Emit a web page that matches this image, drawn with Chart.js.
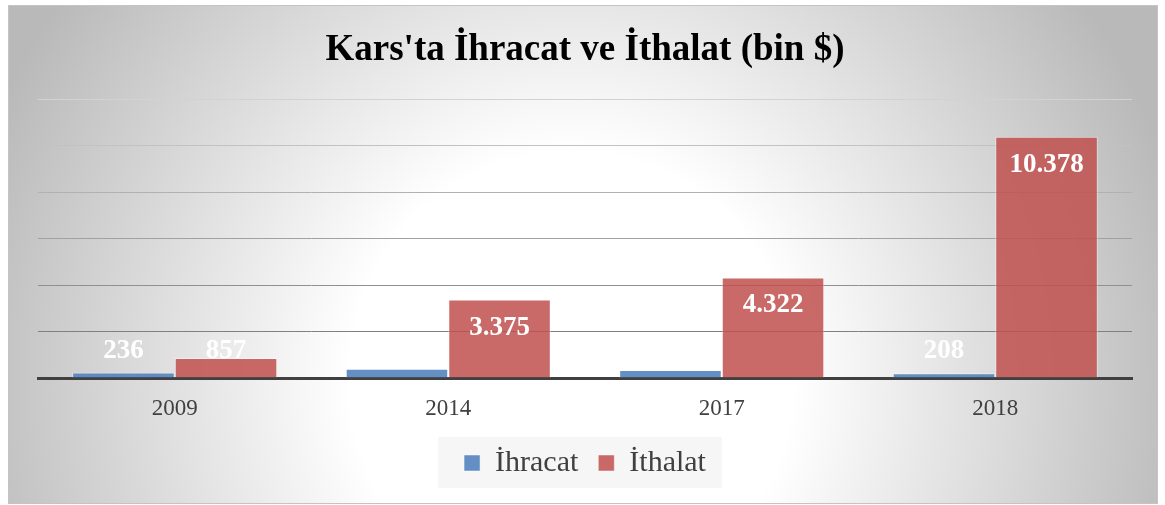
<!DOCTYPE html>
<html lang="tr">
<head>
<meta charset="utf-8">
<title>Kars'ta İhracat ve İthalat</title>
<script src="https://cdn.jsdelivr.net/npm/chart.js@4.4.1/dist/chart.umd.min.js"></script>
<style>
    html, body { margin: 0; padding: 0; background: #fff; }
    #wrap { position: relative; width: 1165px; height: 505px; }
    #frame {
        position: absolute; left: 8px; top: 5px; width: 1148px; height: 497px;
        border: 1px solid #c4c4c4;
        background: radial-gradient(ellipse 55% 130% at 49% 75%, #ffffff 0%, #ffffff 35%, #b9b9b9 100%);
    }
    #karsChart { position: absolute; left: 0; top: 0; }
</style>
</head>
<body>
<div id="wrap">
    <div id="frame"></div>
    <canvas id="karsChart" width="1165" height="505"></canvas>
</div>
<script>
// Chart data
const years = ['2009', '2014', '2017', '2018'];
const ihracat = [236, 400, 340, 208];
const ithalat = [857, 3375, 4322, 10378];
const seriesNames = ['İhracat', 'İthalat'];
const yTicks = [0, 2000, 4000, 6000, 8000, 10000, 12000];

const SERIF = "'Times New Roman', 'Liberation Serif', serif";

const COLORS = {
    ihracat: 'rgba(79, 129, 189, 0.88)',
    ithalat: 'rgba(192, 80, 77, 0.85)',
    text: '#404040',
    axis: '#404040'
};

// 10378 -> "10.378"
function formatTR(v) {
    return String(v).replace(/\B(?=(\d{3})+(?!\d))/g, '.');
}

/**
 * White value labels at the inner end of each bar
 */
const barLabels = {
    id: 'barLabels',
    afterDatasetsDraw(chart) {
        const ctx = chart.ctx;
        ctx.save();
        ctx.font = 'bold 27px ' + SERIF;
        ctx.fillStyle = '#ffffff';
        ctx.textAlign = 'center';
        ctx.textBaseline = 'middle';
        chart.data.datasets.forEach((ds, i) => {
            chart.getDatasetMeta(i).data.forEach((bar, j) => {
                const y = Math.min(bar.y + 28, bar.base - 26);
                ctx.fillText(formatTR(ds.data[j]), bar.x, y);
            });
        });
        ctx.restore();
    }
};

/**
 * Light panel behind the legend
 */
const legendPanel = {
    id: 'legendPanel',
    beforeDraw(chart) {
        const boxes = chart.legend && chart.legend.legendHitBoxes;
        if (!boxes || !boxes.length) return;
        const first = boxes[0];
        const last = boxes[boxes.length - 1];
        const ctx = chart.ctx;
        ctx.save();
        ctx.fillStyle = 'rgba(246, 246, 246, 0.95)';
        ctx.fillRect(first.left - 26, first.top - 11, last.left + last.width + 16 - (first.left - 26), first.height + 21);
        ctx.restore();
    }
};

const ctx = document.getElementById('karsChart');

new Chart(ctx, {
    type: 'bar',
    data: {
        labels: years,
        datasets: [{
            label: seriesNames[0],
            data: ihracat,
            backgroundColor: COLORS.ihracat,
            borderColor: 'rgba(255, 255, 255, 0.45)',
            borderWidth: 1
        }, {
            label: seriesNames[1],
            data: ithalat,
            backgroundColor: COLORS.ithalat,
            borderColor: 'rgba(255, 255, 255, 0.45)',
            borderWidth: 1
        }]
    },
    options: {
        responsive: false,
        animation: false,
        categoryPercentage: 0.75,
        barPercentage: 1,
        layout: {
            padding: { left: 38, right: 33, top: 0, bottom: 17 }
        },
        scales: {
            x: {
                grid: { display: false, drawTicks: false },
                border: { display: true, color: COLORS.axis, width: 3 },
                ticks: {
                    color: COLORS.text,
                    font: { family: SERIF, size: 23 },
                    padding: 17
                },
                afterFit: s => { s.height = 50; }
            },
            y: {
                min: yTicks[0],
                max: yTicks[yTicks.length - 1],
                afterBuildTicks: s => { s.ticks = yTicks.map(v => ({ value: v })); },
                ticks: { display: false },
                border: { display: false },
                grid: {
                    drawTicks: false,
                    lineWidth: 1,
                    color: c => {
                        const v = c.tick ? c.tick.value : 0;
                        const g = Math.round(128 + (v - 2000) / 10000 * 82);
                        return `rgb(${g}, ${g}, ${g})`;
                    }
                },
                afterFit: s => { s.width = 0; }
            }
        },
        plugins: {
            title: {
                display: true,
                text: "Kars'ta İhracat ve İthalat (bin $)",
                color: '#000000',
                font: { family: SERIF, size: 37, weight: 'bold' },
                padding: { top: 28, bottom: 26.6 }
            },
            legend: {
                position: 'bottom',
                labels: {
                    color: COLORS.text,
                    font: { family: SERIF, size: 30 },
                    boxWidth: 16,
                    boxHeight: 16,
                    padding: 20
                }
            },
            tooltip: { enabled: false }
        }
    },
    plugins: [legendPanel, barLabels]
});
</script>
</body>
</html>
